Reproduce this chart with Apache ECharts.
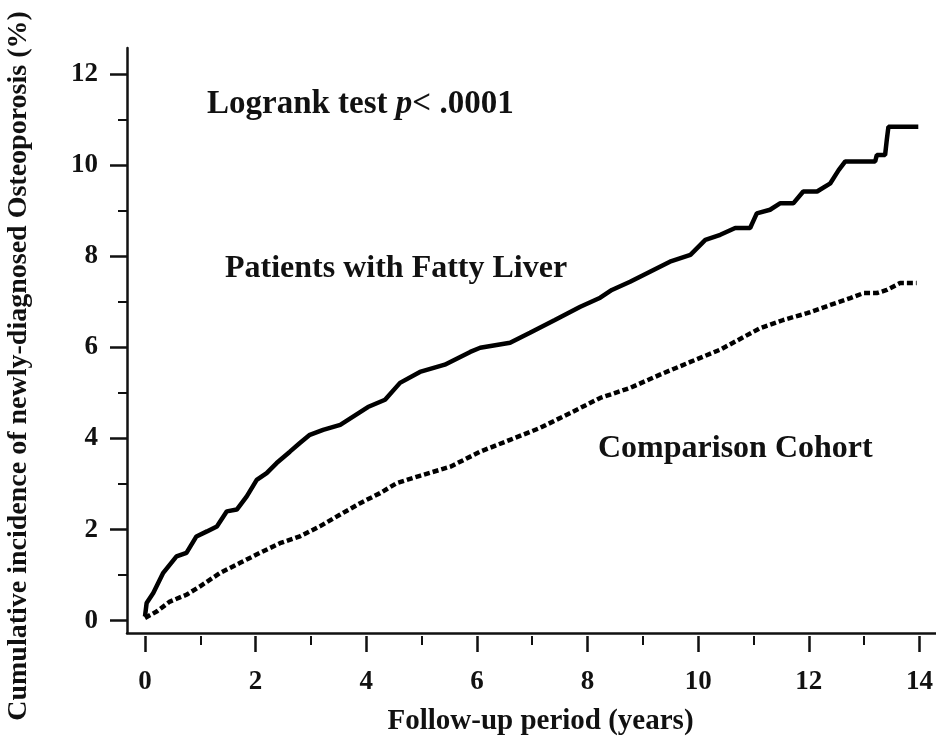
<!DOCTYPE html>
<html>
<head>
<meta charset="utf-8">
<script src="https://cdn.jsdelivr.net/npm/echarts@6/dist/echarts.min.js"></script>
<style>html,body{margin:0;padding:0;background:#fff}#c{width:936px;height:738px}</style>
</head>
<body>
<div id="c"></div>
<script>
// Fatty liver cohort (solid): [years, cumulative incidence %]
var fattyX = [0, 0.03, 0.15, 0.33, 0.57, 0.75, 0.93, 1.12, 1.30, 1.48, 1.66, 1.84, 2.02, 2.20, 2.38, 2.62, 2.80, 2.98, 3.22, 3.53, 4.03, 4.34, 4.61, 4.97, 5.42, 5.88, 6.06, 6.60, 6.96, 7.41, 7.87, 8.23, 8.44, 8.77, 9.13, 9.49, 9.86, 10.13, 10.40, 10.67, 10.94, 11.06, 11.30, 11.48, 11.72, 11.90, 12.15, 12.39, 12.54, 12.66, 13.20, 13.23, 13.38, 13.41, 13.44, 13.98];
var fattyY = [0.09, 0.39, 0.61, 1.05, 1.41, 1.49, 1.85, 1.96, 2.07, 2.40, 2.44, 2.73, 3.09, 3.24, 3.46, 3.71, 3.90, 4.08, 4.19, 4.30, 4.69, 4.85, 5.22, 5.46, 5.62, 5.90, 5.99, 6.10, 6.32, 6.60, 6.89, 7.09, 7.26, 7.44, 7.66, 7.88, 8.03, 8.36, 8.47, 8.62, 8.62, 8.94, 9.02, 9.16, 9.16, 9.42, 9.42, 9.60, 9.89, 10.08, 10.08, 10.22, 10.22, 10.55, 10.84, 10.84];
// Comparison cohort (dashed)
var compX = [0, 0.21, 0.45, 0.75, 0.99, 1.36, 1.72, 2.08, 2.44, 2.80, 3.16, 3.53, 3.89, 4.25, 4.55, 4.97, 5.52, 6.06, 6.60, 7.14, 7.69, 8.23, 8.77, 9.31, 9.86, 10.40, 11.12, 11.54, 11.97, 12.39, 12.75, 12.99, 13.23, 13.41, 13.65, 13.95];
var compY = [0.06, 0.20, 0.42, 0.57, 0.75, 1.05, 1.27, 1.49, 1.70, 1.85, 2.07, 2.33, 2.58, 2.80, 3.02, 3.18, 3.38, 3.71, 3.97, 4.23, 4.56, 4.89, 5.11, 5.40, 5.68, 5.95, 6.42, 6.60, 6.75, 6.93, 7.08, 7.19, 7.19, 7.26, 7.41, 7.41];

var xMajorTicks = [0, 2, 4, 6, 8, 10, 12, 14];
var xMinorTicks = [1, 3, 5, 7, 9, 11, 13];
var yMajorTicks = [0, 2, 4, 6, 8, 10, 12];
var yMinorTicks = [1, 3, 5, 7, 9, 11];

function zip(a, b) { return a.map(function (v, i) { return [v, b[i]]; }); }

var FONT = '"Liberation Serif", "Times New Roman", serif';
var X_MIN = -0.325, X_MAX = 14.3, Y_MIN = -0.27, Y_MAX = 12.57;

var chart = echarts.init(document.getElementById('c'), null, { renderer: 'canvas' });
var baseX = { type: 'value', min: X_MIN, max: X_MAX, splitLine: { show: false }, position: 'bottom' };
var baseY = { type: 'value', min: Y_MIN, max: Y_MAX, splitLine: { show: false }, position: 'left' };

chart.setOption({
  backgroundColor: '#fff',
  animation: false,
  grid: { left: 127, right: 0, top: 48, bottom: 105, containLabel: false, outerBoundsMode: 'none' },
  xAxis: [
    Object.assign({}, baseX, {
      axisLine: { show: true, onZero: false, lineStyle: { color: '#111', width: 2.5 } },
      axisTick: { show: false },
      axisLabel: {
        show: true, customValues: xMajorTicks, margin: 36,
        fontFamily: FONT, fontWeight: 'bold', fontSize: 27, color: '#111'
      },
      name: 'Follow-up period (years)', nameLocation: 'middle', nameGap: 74,
      nameTextStyle: { fontFamily: FONT, fontWeight: 'bold', fontSize: 29, color: '#111', padding: [0, 0, 0, 18] }
    }),
    Object.assign({}, baseX, {
      offset: 3,
      axisLine: { show: false, onZero: false },
      axisTick: { show: true, customValues: xMajorTicks, length: 16, lineStyle: { color: '#111', width: 2.5 } },
      axisLabel: { show: false }
    }),
    Object.assign({}, baseX, {
      offset: 3,
      axisLine: { show: false, onZero: false },
      axisTick: { show: true, customValues: xMinorTicks, length: 9, lineStyle: { color: '#111', width: 2 } },
      axisLabel: { show: false }
    })
  ],
  yAxis: [
    Object.assign({}, baseY, {
      axisLine: { show: true, onZero: false, lineStyle: { color: '#111', width: 2.5 } },
      axisTick: { show: true, customValues: yMajorTicks, length: 17, lineStyle: { color: '#111', width: 2.5 } },
      axisLabel: {
        show: true, customValues: yMajorTicks, margin: 29,
        fontFamily: FONT, fontWeight: 'bold', fontSize: 27, color: '#111'
      }
    }),
    Object.assign({}, baseY, {
      axisLine: { show: false, onZero: false },
      axisTick: { show: true, customValues: yMinorTicks, length: 9, lineStyle: { color: '#111', width: 2 } },
      axisLabel: { show: false }
    })
  ],
  series: [
    {
      name: 'Patients with Fatty Liver', type: 'line', xAxisIndex: 0, yAxisIndex: 0,
      data: zip(fattyX, fattyY), showSymbol: false, smooth: false,
      lineStyle: { color: '#000', width: 4.5, type: 'solid' }
    },
    {
      name: 'Comparison Cohort', type: 'line', xAxisIndex: 0, yAxisIndex: 0,
      data: zip(compX, compY), showSymbol: false, smooth: false,
      lineStyle: { color: '#000', width: 4.5, type: [6, 3] }
    }
  ],
  graphic: [
    {
      type: 'text', x: 19, y: 366, rotation: Math.PI / 2,
      style: {
        text: 'Cumulative incidence of newly-diagnosed Osteoporosis (%)',
        font: 'bold 28px ' + FONT, fill: '#111',
        align: 'center', verticalAlign: 'middle', textAlign: 'center', textVerticalAlign: 'middle'
      }
    },
    {
      type: 'text', left: 207, top: 88,
      style: {
        text: '{b|Logrank test }{i|p}{b|< .0001}',
        rich: {
          b: { fontFamily: FONT, fontWeight: 'bold', fontSize: 33, fill: '#111', color: '#111' },
          i: { fontFamily: FONT, fontWeight: 'bold', fontStyle: 'italic', fontSize: 33, fill: '#111', color: '#111' }
        }
      }
    },
    {
      type: 'text', left: 225, top: 253,
      style: { text: 'Patients with Fatty Liver', font: 'bold 32px ' + FONT, fill: '#111' }
    },
    {
      type: 'text', left: 598, top: 433,
      style: { text: 'Comparison Cohort', font: 'bold 32px ' + FONT, fill: '#111' }
    }
  ]
});
</script>
</body>
</html>
